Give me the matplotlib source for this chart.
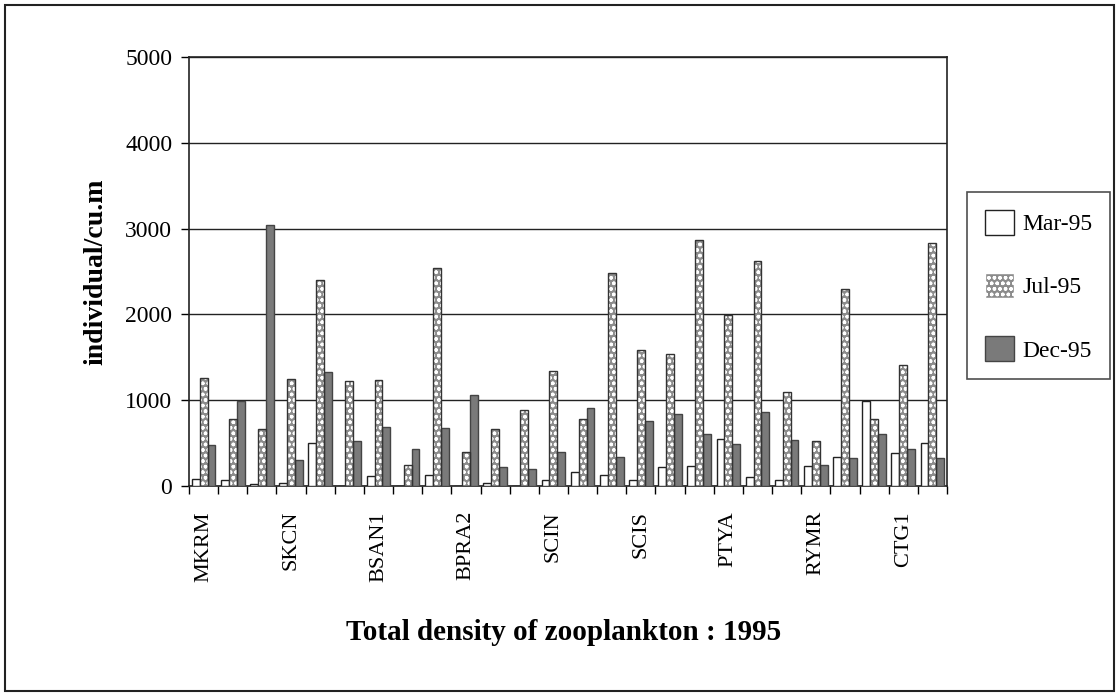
import numpy as np
import matplotlib
matplotlib.use("Agg")
import matplotlib.pyplot as plt
from matplotlib.patches import Rectangle, Patch

plt.rcParams['font.family'] = ['Liberation Serif', 'DejaVu Serif']

# 26 sampling stations, only every third one is labelled on the axis
station_labels = ['MKRM', '', '', 'SKCN', '', '', 'BSAN1', '', '', 'BPRA2', '', '',
                  'SCIN', '', '', 'SCIS', '', '', 'PTYA', '', '', 'RYMR', '', '',
                  'CTG1', '']
series_names = ['Mar-95', 'Jul-95', 'Dec-95']

mar95 = [85, 74, 25, 35, 501, 5, 113, 5, 124, 5, 35, 5, 66, 163, 132, 74,
         221, 233, 551, 105, 66, 233, 338, 986, 388, 505]
jul95 = [1262, 777, 668, 1243, 2404, 1219, 1231, 249, 2540, 396, 668, 882, 1340,
         784, 2481, 1588, 1534, 2862, 1996, 2617, 1095, 524, 2299, 784, 1414, 2835]
dec95 = [474, 990, 3037, 307, 1328, 520, 687, 427, 680, 1056, 221, 202, 396,
         913, 338, 753, 843, 610, 485, 862, 532, 241, 330, 610, 435, 330]

fig = plt.figure(figsize=(11.19, 6.96), dpi=100)
ax = fig.add_axes([189/1119, 1-486/696, 758/1119, 429/696])

n = len(station_labels)
x = np.arange(n) + 0.5
w = 0.27

ax.bar(x - w, mar95, w, color='white', edgecolor='#222222', linewidth=1, zorder=3)
# patterned bars: grey with white dots, then a dark outline
ax.bar(x, jul95, w, color='#8c8c8c', edgecolor='white', hatch='ooo', linewidth=0, zorder=3)
ax.bar(x, jul95, w, fill=False, edgecolor='#333333', linewidth=1, zorder=4)
ax.bar(x + w, dec95, w, color='#7a7a7a', edgecolor='#444444', linewidth=1, zorder=3)

ax.set_xlim(0, n)
ax.set_ylim(0, 5000)
ax.set_yticks([0, 1000, 2000, 3000, 4000, 5000])
ax.tick_params(axis='y', labelsize=17, length=6, width=1, direction='out', pad=6)
ax.yaxis.grid(True, color='#222222', linewidth=1)
ax.set_axisbelow(True)

ax.set_xticks(np.arange(n + 1), minor=True)
ax.set_xticks(x)
ax.set_xticklabels(station_labels, rotation=90, fontsize=16)
ax.tick_params(axis='x', which='major', length=0, pad=18)
ax.tick_params(axis='x', which='minor', length=6, width=1, direction='out')

for s in ax.spines.values():
    s.set_color('#222222')
    s.set_linewidth(1.2)

ax.set_ylabel('individual/cu.m', fontsize=20, fontweight='bold', labelpad=12)
fig.text(564/1119, 1-632/696, 'Total density of zooplankton : 1995', fontsize=21,
         fontweight='bold', ha='center', va='center')

handles = [Patch(facecolor='white', edgecolor='#222222'),
           Patch(facecolor='#8c8c8c', edgecolor='white', hatch='ooo'),
           Patch(facecolor='#7a7a7a', edgecolor='#444444')]
leg = fig.legend(handles, series_names, loc='upper left',
                 bbox_to_anchor=(967/1119, 1-192/696), fontsize=17,
                 frameon=True, fancybox=False, edgecolor='#222222',
                 handlelength=1.25, handleheight=1.25, labelspacing=1.6,
                 handletextpad=0.35, borderpad=0.75, borderaxespad=0)
leg.get_frame().set_linewidth(1.2)

fig.patches.append(Rectangle((5/1119, 5/696), 1-10/1119, 1-10/696, transform=fig.transFigure,
                             fill=False, edgecolor='#222222', linewidth=1.5))

fig.savefig('out.png', dpi=100)
